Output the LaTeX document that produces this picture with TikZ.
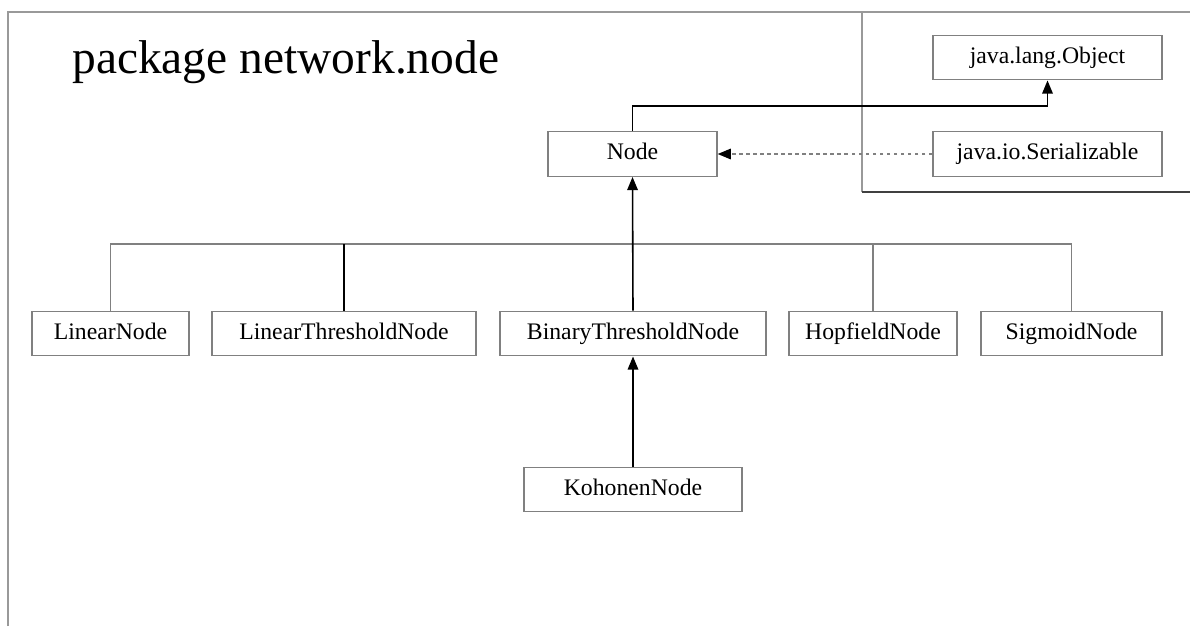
\documentclass[tikz,border=0pt]{standalone}
\usepackage{fontspec}
\setmainfont{Liberation Serif}
\usetikzlibrary{arrows.meta,calc}
\definecolor{linegray}{gray}{0.5}

\begin{document}
\begin{tikzpicture}[
    x=0.02cm,
    y=-0.02cm,
    cls/.style ={
        rectangle,
        draw=linegray,
        line width=0.8pt,
        minimum height=0.89cm,
        inner sep=0pt,
        text height=0.8em,
        text depth=0.15em,
        font=\fontsize{13.5}{16}\selectfont
    },
    title/.style ={
        inner sep=0pt,
        font=\fontsize{27}{31}\selectfont
    },
    gen/.style ={
        draw=black,
        line width=0.9pt,
        -{Triangle[length=7.5pt,width=6pt]}
    },
    bar/.style ={
        draw=linegray,
        line width=0.8pt
    },
    frame/.style ={
        draw=black!40,
        line width=1.3pt
    }
    ]
    \useasboundingbox (0,0) rectangle (1190,626);

    % package frame
    \draw[frame] (8,626) -- (8,12) -- (1190,12);
    \draw[frame] (862,12) -- (862,192);
    \draw[frame, draw=black!75] (862,192) -- (1190,192);
    \node[title, anchor=base west] (title) at (72,73) {package network.node};

    \foreach \name/ \txt/ \pos/ \boxw in {{object/java.lang.Object/(1047.5,57.5)/4.58cm},
                                {serial/java.io.Serializable/(1047.5,154)/4.58cm},
                                {node/Node/(632.5,154)/3.38cm},
                                {linear/LinearNode/(110.5,333.5)/3.14cm}, {linthr/LinearThresholdNode/(344,333.5)/5.28cm},
                                {binthr/BinaryThresholdNode/(633,333.5)/5.32cm}, {hopf/HopfieldNode/(873,333.5)/3.36cm},
                                {sigm/SigmoidNode/(1071.5,333.5)/3.62cm}, {kohonen/KohonenNode/(633,489.5)/4.36cm}}
        \node[cls, minimum width=\boxw] (\name) at \pos {\txt};

    \coordinate (up) at (840,106);
    \coordinate (split) at (633,244);

    \draw[gen] (node.north) |- (up) -| (object.south);
    \draw[gen, draw=linegray, dash pattern=on 2pt off 2pt, -{Triangle[length=7.5pt,width=6pt,color=black]}] (serial.west) -- (node.east);

    \draw[bar] (linear.north) |- (split) -| (sigm.north);
    \draw[bar, draw=black] (linthr.north) -- (linthr.north |- split);
    \draw[bar] (hopf.north) -- (hopf.north |- split);
    \draw[gen] (binthr.north) -- (node.south);
    \draw[gen] (kohonen.north) -- (binthr.south);
\end{tikzpicture}
\end{document}
